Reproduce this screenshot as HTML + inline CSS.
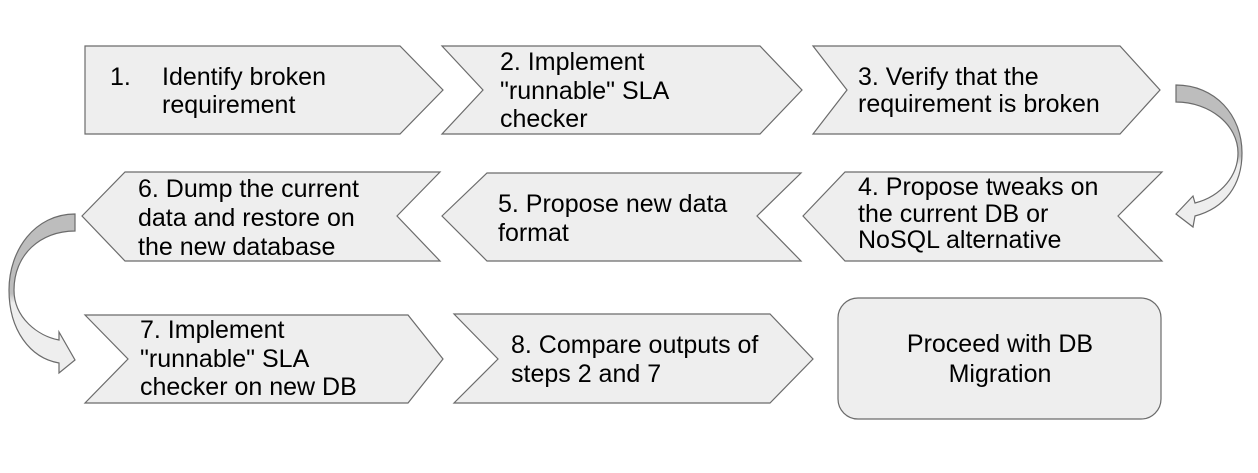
<!DOCTYPE html>
<html><head><meta charset="utf-8"><style>
html,body{margin:0;padding:0;background:#fff;}
svg{display:block;}
text{font-family:"Liberation Sans",sans-serif;font-size:25px;fill:#000;}
</style></head><body>
<svg width="1258" height="473" viewBox="0 0 1258 473" xmlns="http://www.w3.org/2000/svg">
<defs>
<linearGradient id="gr" x1="0" y1="0" x2="0" y2="1">
<stop offset="0" stop-color="#bdbdbd"/><stop offset="0.5" stop-color="#bdbdbd"/><stop offset="0.56" stop-color="#eeeeee"/><stop offset="1" stop-color="#eeeeee"/>
</linearGradient>
</defs>
<g fill="#eeeeee" stroke="#6b6b6b" stroke-width="1.2">
<polygon points="85,46 400,46 443,90 400,134 85,134"/>
<polygon points="442,46 760,46 802,90 760,134 442,134 483,90"/>
<polygon points="813,46 1120,46 1160,90 1120,134 813,134 847,90"/>
<polygon points="82,216 125,172 440,172 397,216 440,261 125,261"/>
<polygon points="442,216 487,173 801,173 757,216 801,261 487,261"/>
<polygon points="803,216 845,172 1162,172 1118,216 1162,261 845,261"/>
<polygon points="85,315 408,315 443,359 408,403 85,403 128,359"/>
<polygon points="454,314 770,314 813,359 770,403 454,403 498,359"/>
<rect x="838" y="298" width="323" height="121" rx="20" ry="20"/>
</g>
<path d="M1176,85 C1215,85 1242,115 1242,153 C1242,185 1225,208 1195,216 L1193,227 L1176,214 L1193,196 L1195,203 C1222,196 1238,175 1238,153 C1238,125 1210,102 1176,102 Z" fill="url(#gr)" stroke="#6b6b6b" stroke-width="1.2"/>
<path d="M75,214 C35,214 9,250 9,290 C9,330 30,358 59,363 L59,373 L75,360 L59,332 L59,340 C38,336 14,318 14,290 C14,255 40,231 75,231 Z" fill="url(#gr)" stroke="#6b6b6b" stroke-width="1.2"/>
<text x="110" y="85">1.</text>
<text x="162" y="85">Identify broken</text>
<text x="162" y="113">requirement</text>

<text x="500" y="70">2. Implement</text>
<text x="500" y="99">"runnable" SLA</text>
<text x="500" y="127">checker</text>

<text x="858" y="85">3. Verify that the</text>
<text x="858" y="112">requirement is broken</text>

<text x="858" y="195">4. Propose tweaks on</text>
<text x="858" y="222">the current DB or</text>
<text x="858" y="248">NoSQL alternative</text>

<text x="498" y="212">5. Propose new data</text>
<text x="498" y="241">format</text>

<text x="138" y="197">6. Dump the current</text>
<text x="138" y="226">data and restore on</text>
<text x="138" y="255">the new database</text>

<text x="140" y="338">7. Implement</text>
<text x="140" y="367">"runnable" SLA</text>
<text x="140" y="395">checker on new DB</text>

<text x="511" y="353">8. Compare outputs of</text>
<text x="511" y="382">steps 2 and 7</text>

<text x="1000" y="352" text-anchor="middle">Proceed with DB</text>
<text x="1000" y="382" text-anchor="middle">Migration</text>
</svg>
</body></html>
